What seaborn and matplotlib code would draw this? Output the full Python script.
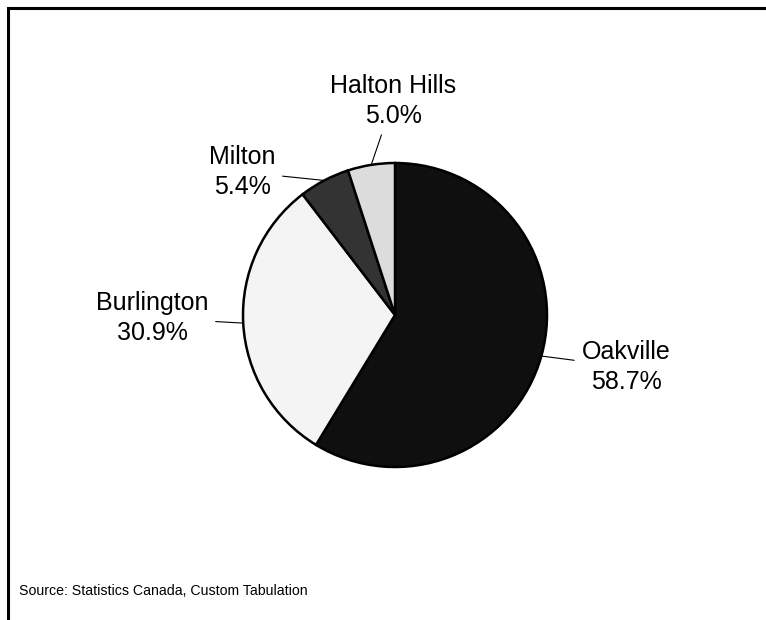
import matplotlib.pyplot as plt
import numpy as np
import seaborn as sns
from matplotlib.patches import Rectangle

# Data
towns = ["Oakville", "Burlington", "Milton", "Halton Hills"]
shares = [58.7, 30.9, 5.4, 5.0]
colors = ["#0f0f0f", "#f4f4f4", "#333333", "#dcdcdc"]
source = "Source: Statistics Canada, Custom Tabulation"

W, H = 766, 620
sns.set_style("white")
plt.rcParams['font.family'] = ['Liberation Sans', 'DejaVu Sans']
plt.rcParams['text.color'] = 'black'

fig = plt.figure(figsize=(W / 100, H / 100), dpi=100)
ax = fig.add_axes([0, 0, 1, 1])

# pie geometry in pixel units (y measured upward)
cx, cy, r = 395, H - 315, 152
wedges, _ = ax.pie(shares, colors=colors, startangle=90, counterclock=False,
                   center=(cx, cy), radius=r, frame=True,
                   wedgeprops=dict(edgecolor='black', linewidth=1.8))
ax.set_xlim(0, W)
ax.set_ylim(0, H)
ax.set_aspect('equal')
ax.axis('off')

# label centres (pixels from top-left)
label_pos = {"Oakville": (626, 367), "Burlington": (152, 318),
             "Milton": (242, 172), "Halton Hills": (393, 101)}

for w, name, val in zip(wedges, towns, shares):
    ang = np.deg2rad((w.theta1 + w.theta2) / 2)
    edge = (cx + r * np.cos(ang), cy + r * np.sin(ang))
    lx, ly = label_pos[name]
    ax.annotate(f"{name}\n{val:.1f}%", xy=edge, xytext=(lx, H - ly),
                ha='center', va='center', fontsize=18, linespacing=1.28,
                arrowprops=dict(arrowstyle='-', color='black', lw=0.8,
                                shrinkA=3, shrinkB=0))

ax.text(19, H - 591, source, ha='left', va='center', fontsize=10.2)

# outer frame (only top and left edges fall inside the image)
fig.add_artist(Rectangle((8 / W, -0.1), 1.2, (H - 8) / H + 0.1,
                         transform=fig.transFigure, fill=False,
                         edgecolor='black', linewidth=2.2))

fig.savefig("out.png", dpi=100)
